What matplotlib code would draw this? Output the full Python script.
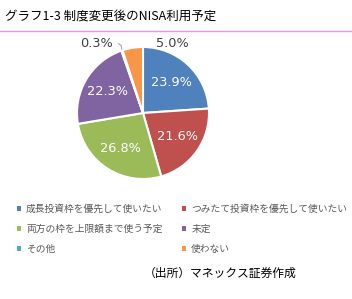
import matplotlib
matplotlib.use("Agg")
import matplotlib.pyplot as plt
from matplotlib.patches import Patch
import numpy as np

plt.rcParams['font.family'] = ['Noto Sans CJK JP', 'DejaVu Sans']

title = "グラフ1-3 制度変更後のNISA利用予定"
categories = ["成長投資枠を優先して使いたい", "つみたて投資枠を優先して使いたい",
              "両方の枠を上限額まで使う予定", "未定", "その他", "使わない"]
values = [23.9, 21.6, 26.8, 22.3, 0.3, 5.0]
colors = ["#4F81BD", "#C0504D", "#9BBB59", "#8064A2", "#4BACC6", "#F79646"]
source = "（出所）マネックス証券作成"

W, H = 352, 299
fig = plt.figure(figsize=(W / 100, H / 100), dpi=100)

fig.text(5 / W, 1 - 16 / H, title, fontsize=9, va='center', ha='left', color='black')
fig.add_artist(plt.Line2D([0, 1], [1 - 31 / H, 1 - 31 / H], color='#EE90EE', lw=1))

# pie: centre (143,113) px, radius 66 px
cx, cy, r = 143, 113, 66
lim = 1.0
ax = fig.add_axes([(cx - r) / W, (H - cy - r) / H, 2 * r / W, 2 * r / H])
wedges, texts, autotexts = ax.pie(values, colors=colors, startangle=90, counterclock=False,
                                  autopct='%.1f%%', pctdistance=0.63,
                                  wedgeprops=dict(edgecolor='white', linewidth=1.5),
                                  textprops=dict(color='white', fontsize=9.3, family='DejaVu Sans'))
ax.set_xlim(-lim, lim)
ax.set_ylim(-lim, lim)
ax.set_aspect('equal')

# small slices: labels outside
autotexts[4].set_position((-0.70, 1.05))
autotexts[4].set_color('#404040')
autotexts[5].set_position((0.45, 1.05))
autotexts[5].set_color('#404040')
ang = np.deg2rad(90 - (sum(values[:4]) + values[4] / 2) * 3.6)
ax.plot([np.cos(ang) * 1.0, -0.33, -0.37], [np.sin(ang) * 1.0 + 0.02, 1.02, 1.05],
        color='#A6A6A6', lw=0.8, clip_on=False)

# legend filled row by row like the original
order = [0, 2, 4, 1, 3, 5]
handles = [Patch(facecolor=colors[i], edgecolor='none') for i in order]
fig.legend(handles, [categories[i] for i in order], ncol=2, loc='upper left',
           bbox_to_anchor=(12 / W, 1 - 199 / H), frameon=False,
           prop=dict(size=7), labelcolor='#595959',
           handlelength=0.45, handleheight=0.45, handletextpad=0.5,
           columnspacing=2.0, labelspacing=1.05, borderpad=0)

fig.text(296 / W, 1 - 273 / H, source, fontsize=8.5, va='center', ha='right', color='black')

fig.savefig("out.png", dpi=100)
